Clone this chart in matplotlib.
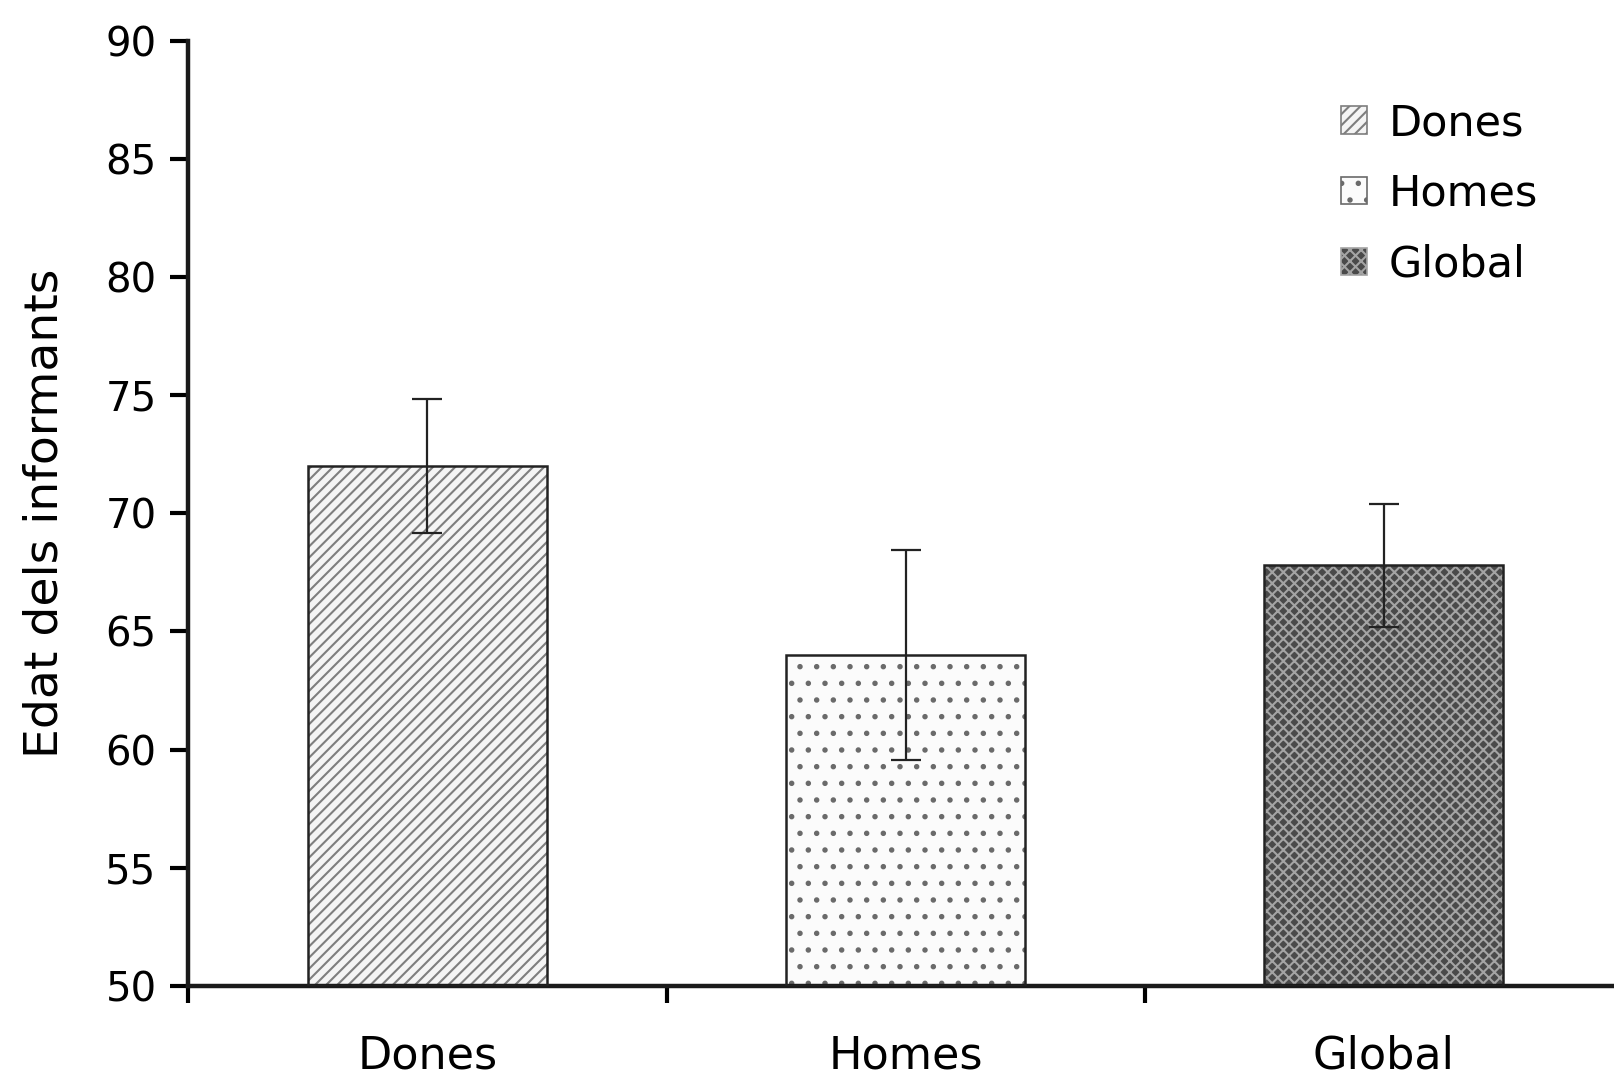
import matplotlib
matplotlib.use('Agg')
import matplotlib.pyplot as plt
from matplotlib.patches import Patch
import numpy as np

plt.rcParams['font.family'] = ['DejaVu Sans']
plt.rcParams['hatch.linewidth'] = 1.5

categories = ['Dones', 'Homes', 'Global']
means = [72.0, 64.0, 67.8]
errors = [2.85, 4.45, 2.6]
yticks = [50, 55, 60, 65, 70, 75, 80, 85, 90]

faces = ['#f4f4f4', '#fbfbfb', '#4a4a4a']
hatches = ['///', '.', 'xxx']
hatch_colors = ['#7e7e7e', '#6a6a6a', '#a4a4a4']

fig = plt.figure(figsize=(16.15, 10.82), dpi=100)
ax = fig.add_axes([0.1167, 0.089, 0.888, 0.873])

x = np.arange(len(categories))
for i in range(len(categories)):
    ax.bar(x[i], means[i] - 50, bottom=50, width=0.5, color=faces[i],
           edgecolor=hatch_colors[i], hatch=hatches[i], linewidth=0, zorder=2)
    ax.bar(x[i], means[i] - 50, bottom=50, width=0.5, fill=False,
           edgecolor='#222222', linewidth=1.8, zorder=3)

ax.errorbar(x, means, yerr=errors, fmt='none', ecolor='#222222',
            elinewidth=1.6, capsize=11, capthick=1.6, zorder=4)

ax.set_xlim(-0.5, 2.5)
ax.set_ylim(50, 90)
ax.set_yticks(yticks)
ax.set_xticks(x)
ax.set_xticklabels(categories)
ax.set_xticks([-0.5, 0.5, 1.5, 2.5], minor=True)
ax.tick_params(axis='x', which='major', length=0, pad=35, labelsize=32)
ax.tick_params(axis='x', which='minor', length=12, width=3, direction='out')
ax.tick_params(axis='y', length=13, width=3, direction='out', pad=10, labelsize=29)
ax.set_ylabel('Edat dels informants', fontsize=34, labelpad=27)

for s in ['top', 'right']:
    ax.spines[s].set_visible(False)
for s in ['left', 'bottom']:
    ax.spines[s].set_linewidth(3.2)
    ax.spines[s].set_color('#1a1a1a')

handles = [Patch(facecolor=faces[i], edgecolor=hatch_colors[i], hatch=hatches[i])
           for i in range(len(categories))]
leg = ax.legend(handles, categories, loc='upper left', bbox_to_anchor=(0.8065, 0.9415),
                bbox_transform=fig.transFigure, frameon=False, fontsize=31,
                handlelength=0.6, handleheight=0.6, handletextpad=0.5,
                labelspacing=0.67, borderpad=0.4)
for h in leg.legend_handles:
    h.set_linewidth(1.2)

fig.savefig('out.png', dpi=100, facecolor='white')
